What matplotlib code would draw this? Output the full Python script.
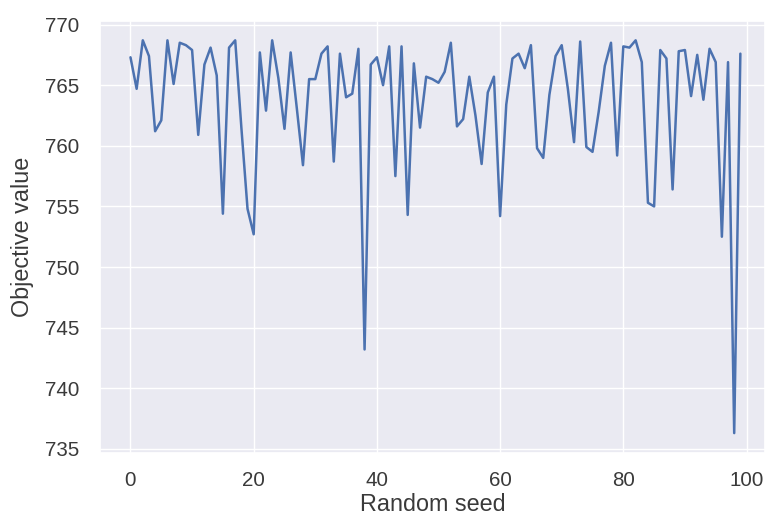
import matplotlib
matplotlib.use('Agg')
import matplotlib.pyplot as plt
import seaborn as sns

SEEDS = list(range(100))
OBJECTIVE = [
    767.3, 764.7, 768.7, 767.4, 761.2, 762.1, 768.7, 765.1, 768.5, 768.3,
    767.9, 760.9, 766.7, 768.1, 765.8, 754.4, 768.1, 768.7, 761.5, 754.8,
    752.7, 767.7, 762.9, 768.7, 765.6, 761.4, 767.7, 763.1, 758.4, 765.5,
    765.5, 767.6, 768.2, 758.7, 767.6, 764.0, 764.3, 768.0, 743.2, 766.7,
    767.3, 765.0, 768.2, 757.5, 768.2, 754.3, 766.8, 761.5, 765.7, 765.5,
    765.2, 766.1, 768.5, 761.6, 762.2, 765.7, 762.5, 758.5, 764.4, 765.7,
    754.2, 763.4, 767.2, 767.6, 766.4, 768.3, 759.8, 759.0, 764.2, 767.4,
    768.3, 764.7, 760.3, 768.6, 759.9, 759.5, 762.8, 766.6, 768.5, 759.2,
    768.2, 768.1, 768.7, 766.9, 755.3, 755.0, 767.9, 767.2, 756.4, 767.8,
    767.9, 764.1, 767.5, 763.8, 768.0, 766.9, 752.5, 766.9, 736.3, 767.6,
]


def main():
    sns.set_theme(style='darkgrid')
    plt.rcParams['font.family'] = ['Liberation Sans', 'DejaVu Sans']

    fig = plt.figure(figsize=(7.65, 5.21), dpi=100)
    ax = fig.add_axes([0.1307, 0.131, 0.8693, 0.8293])

    ax.plot(SEEDS, OBJECTIVE, color='#4c72b0', linewidth=1.8)
    ax.set_xlim(-4.95, 103)
    ax.set_xticks([0, 20, 40, 60, 80, 100])
    ax.set_yticks([735, 740, 745, 750, 755, 760, 765, 770])
    ax.tick_params(labelsize=14.8, colors='#3a3a3a')
    ax.tick_params(axis='x', pad=7.2)
    ax.tick_params(axis='y', pad=9.1)
    ax.set_xlabel('Random seed', fontsize=16.8, color='#3a3a3a', labelpad=2)
    ax.set_ylabel('Objective value', fontsize=16.8, color='#3a3a3a', labelpad=8)

    fig.savefig('out.png', dpi=100)


if __name__ == '__main__':
    main()
